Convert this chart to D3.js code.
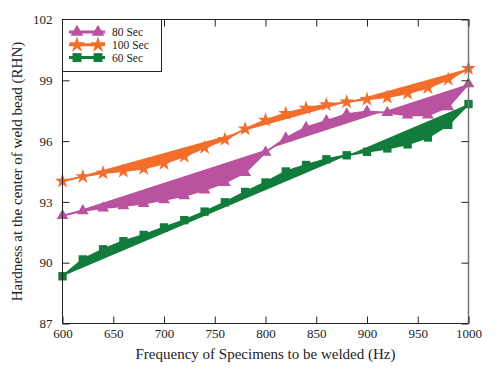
<!DOCTYPE html>
<html>
<head>
<meta charset="utf-8">
<script src="https://cdn.jsdelivr.net/npm/d3@7"></script>
<style>
  body { margin: 0; background: #fff; }
  svg { font-family: "Liberation Serif", "DejaVu Serif", serif; }
</style>
</head>
<body>
<script>
var freq = [600, 620, 640, 660, 680, 700, 720, 740, 760, 780, 800,
            820, 840, 860, 880, 900, 920, 940, 960, 980, 1000];
var sec80 = [92.32, 92.56, 92.7, 92.8, 92.92, 93.1, 93.3, 93.58, 93.95, 94.45, 95.45,
             96.15, 96.67, 97.0, 97.33, 97.46, 97.4, 97.28, 97.28, 97.69, 98.82];
var sec100 = [94.02, 94.25, 94.43, 94.52, 94.65, 94.9, 95.25, 95.68, 96.08, 96.6, 97.03,
              97.36, 97.62, 97.8, 97.93, 98.06, 98.17, 98.36, 98.64, 99.05, 99.58];
var sec60 = [89.33, 90.16, 90.66, 91.06, 91.37, 91.74, 92.1, 92.52, 92.98, 93.49, 93.96,
             94.5, 94.82, 95.1, 95.3, 95.47, 95.64, 95.84, 96.18, 96.8, 97.83];
var xTicks = [600, 650, 700, 750, 800, 850, 900, 950, 1000];
var yTicks = [87, 90, 93, 96, 99, 102];

var series = [
  {name: "80 Sec", values: sec80, color: "#b9529f", symbol: d3.symbolTriangle, size: 60},
  {name: "100 Sec", values: sec100, color: "#f36d2b", symbol: d3.symbolStar, size: 70},
  {name: "60 Sec", values: sec60, color: "#127c3c", symbol: d3.symbolSquare, size: 70}
];

var width = 500, height = 373;
var svg = d3.select("body").append("svg")
    .attr("width", width)
    .attr("height", height);

var x = d3.scaleLinear().domain([600, 1000]).range([62.5, 468.5]);
var y = d3.scaleLinear().domain([87, 102]).range([323.5, 19.5]);

var line = d3.line()
    .x(function (d, i) { return x(freq[i]); })
    .y(function (d) { return y(d); });

// bands: polyline closed back to first point, then line + markers on top
series.forEach(function (s) {
  svg.append("path")
      .attr("d", line(s.values) + "Z")
      .attr("fill", s.color)
      .attr("fill-rule", "evenodd")
      .attr("stroke", "none");
});
series.forEach(function (s) {
  svg.append("path")
      .attr("d", line(s.values))
      .attr("fill", "none")
      .attr("stroke", s.color)
      .attr("stroke-width", 2);
  svg.append("g").selectAll("path")
      .data(s.values)
      .enter()
      .append("path")
      .attr("d", d3.symbol().type(s.symbol).size(s.size))
      .attr("transform", function (d, i) {
        return "translate(" + x(freq[i]) + "," + y(d) + ")";
      })
      .attr("fill", s.color);
});

// frame
svg.append("rect")
    .attr("x", x(600)).attr("y", y(102))
    .attr("width", x(1000) - x(600)).attr("height", y(87) - y(102))
    .attr("fill", "none")
    .attr("stroke", "#222")
    .attr("stroke-width", 1);
svg.append("line")
    .attr("x1", x(1000)).attr("x2", x(1000))
    .attr("y1", y(102)).attr("y2", y(87))
    .attr("stroke", "#777").attr("stroke-width", 1.5);

var tickLen = 7;
function noDomain(g) { g.select(".domain").remove(); }

svg.append("g")
    .attr("transform", "translate(0," + y(87) + ")")
    .call(d3.axisBottom(x).tickValues(xTicks).tickSize(-tickLen).tickPadding(5)
        .tickFormat(d3.format("d")))
    .call(noDomain)
    .call(function (g) {
      g.selectAll("text").attr("font-size", 13).attr("fill", "#222")
          .attr("font-family", "Liberation Serif");
      g.selectAll("line").attr("stroke", "#222");
    });
svg.append("g")
    .attr("transform", "translate(0," + y(102) + ")")
    .call(d3.axisTop(x).tickValues(xTicks).tickSize(-tickLen).tickFormat(""))
    .call(noDomain)
    .call(function (g) { g.selectAll("line").attr("stroke", "#222"); });
svg.append("g")
    .attr("transform", "translate(" + x(600) + ",0)")
    .call(d3.axisLeft(y).tickValues(yTicks).tickSize(-tickLen).tickPadding(10))
    .call(noDomain)
    .call(function (g) {
      g.selectAll("text").attr("font-size", 13).attr("fill", "#222")
          .attr("font-family", "Liberation Serif");
      g.selectAll("line").attr("stroke", "#222");
    });
svg.append("g")
    .attr("transform", "translate(" + x(1000) + ",0)")
    .call(d3.axisRight(y).tickValues(yTicks).tickSize(-tickLen).tickFormat(""))
    .call(noDomain)
    .call(function (g) { g.selectAll("line").attr("stroke", "#222"); });

// axis titles
svg.append("text")
    .attr("x", (x(600) + x(1000)) / 2)
    .attr("y", 359)
    .attr("text-anchor", "middle")
    .attr("font-size", 15)
    .attr("fill", "#222")
    .text("Frequency of Specimens to be welded (Hz)");
svg.append("text")
    .attr("transform", "translate(22," + (y(87) + y(102)) / 2 + ") rotate(-90)")
    .attr("text-anchor", "middle")
    .attr("font-size", 15)
    .attr("fill", "#222")
    .text("Hardness at the center of weld bead (RHN)");

// legend
var legend = svg.append("g");
legend.append("rect")
    .attr("x", x(600)).attr("y", y(102))
    .attr("width", 99).attr("height", 52)
    .attr("fill", "#fff")
    .attr("stroke", "#222");
series.forEach(function (s, i) {
  var ly = 32 + i * 12.8;
  legend.append("line")
      .attr("x1", 69).attr("x2", 105)
      .attr("y1", ly).attr("y2", ly)
      .attr("stroke", s.color).attr("stroke-width", 3);
  [77, 98].forEach(function (mx) {
    legend.append("path")
        .attr("d", d3.symbol().type(s.symbol).size(s.size + 10))
        .attr("transform", "translate(" + mx + "," + ly + ")")
        .attr("fill", s.color);
  });
  legend.append("text")
      .attr("x", 112).attr("y", ly + 4)
      .attr("font-size", 11.5)
      .attr("fill", "#222")
      .text(s.name);
});
</script>
</body>
</html>
